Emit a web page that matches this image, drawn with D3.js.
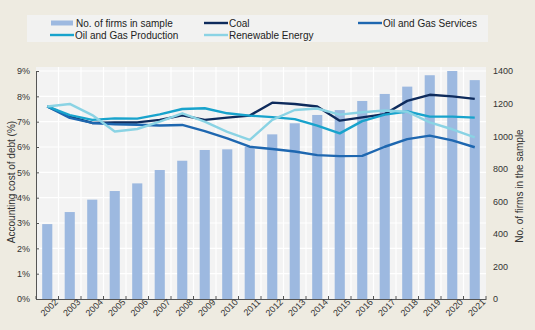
<!DOCTYPE html>
<html>
<head>
<meta charset="utf-8">
<script src="https://cdn.jsdelivr.net/npm/d3@7"></script>
<style>
  html, body { margin: 0; padding: 0; background: #EEEBE1; }
  svg { display: block; font-family: "Liberation Sans Narrow", "Arial Narrow", "Liberation Sans", Arial, sans-serif; }
</style>
</head>
<body>
<svg id="chart" width="535" height="330"></svg>
<script>
// Years on the x axis
const years = ["2002","2003","2004","2005","2006","2007","2008","2009","2010","2011",
               "2012","2013","2014","2015","2016","2017","2018","2019","2020","2021"];
// Number of firms in the sample (right axis, bars)
const firms = [460, 534, 610, 663, 710, 792, 849, 915, 919, 935,
               1011, 1079, 1130, 1160, 1216, 1259, 1304, 1374, 1400, 1344];
// Accounting cost of debt by sector, % (left axis, lines)
const coal = [7.6, 7.2, 6.95, 6.97, 6.97, 7.07, 7.25, 7.07, 7.16, 7.24,
              7.75, 7.7, 7.6, 7.04, 7.17, 7.3, 7.82, 8.06, 8.0, 7.9];
const oilGasServices = [7.6, 7.15, 6.95, 6.9, 6.88, 6.85, 6.87, 6.63, 6.34, 6.01,
                        5.92, 5.82, 5.68, 5.64, 5.65, 6.01, 6.31, 6.45, 6.26, 5.99];
const oilGasProduction = [7.6, 7.26, 7.07, 7.13, 7.12, 7.29, 7.5, 7.53, 7.33, 7.24,
                          7.18, 7.1, 6.84, 6.54, 7.02, 7.28, 7.4, 7.2, 7.2, 7.16];
const renewable = [7.6, 7.7, 7.26, 6.61, 6.71, 7.0, 7.33, 7.0, 6.6, 6.28,
                   7.07, 7.46, 7.52, 7.28, 7.37, 7.44, 7.39, 6.97, 6.7, 6.38];
// Axis tick values
const leftTicks = [0, 1, 2, 3, 4, 5, 6, 7, 8, 9];
const rightTicks = [0, 200, 400, 600, 800, 1000, 1200, 1400];

const series = [
  { name: "Coal", values: coal, color: "#0E2B5C" },
  { name: "Oil and Gas Services", values: oilGasServices, color: "#1E67B0" },
  { name: "Oil and Gas Production", values: oilGasProduction, color: "#18A3CC" },
  { name: "Renewable Energy", values: renewable, color: "#8AD3E4" }
];
const barColor = "#9DB9E0";

const svg = d3.select("#chart");
const m = { left: 36, right: 486, top: 71, bottom: 299 };

const x = d3.scaleBand().domain(years).range([m.left, m.right]).paddingInner(0.55).paddingOuter(0.275);
const xb = d3.scaleBand().domain(years).range([m.left, m.right]);
const yL = d3.scaleLinear().domain([0, 9]).range([m.bottom, m.top]);
const yR = d3.scaleLinear().domain([0, 1400]).range([m.bottom, m.top]);

// Plot background
svg.append("rect").attr("x", m.left).attr("y", 67).attr("width", m.right - m.left)
  .attr("height", m.bottom - 67).attr("fill", "#F3F3F3");

// Gridlines
svg.append("g").selectAll("line").data(leftTicks.slice(1)).join("line")
  .attr("x1", m.left).attr("x2", m.right)
  .attr("y1", d => yL(d)).attr("y2", d => yL(d))
  .attr("stroke", "#FFFFFF").attr("stroke-width", 1.2);
svg.append("g").selectAll("line").data(years.slice(1)).join("line")
  .attr("x1", d => xb(d)).attr("x2", d => xb(d))
  .attr("y1", 67).attr("y2", m.bottom)
  .attr("stroke", "#FFFFFF").attr("stroke-width", 1.2);

// Bars: number of firms
svg.append("g").selectAll("rect").data(years).join("rect")
  .attr("x", d => x(d)).attr("width", x.bandwidth())
  .attr("y", (d, i) => yR(firms[i]))
  .attr("height", (d, i) => m.bottom - yR(firms[i]))
  .attr("fill", barColor);

// Lines: cost of debt
const line = d3.line()
  .x((d, i) => xb(years[i]) + xb.bandwidth() / 2)
  .y(d => yL(d));
svg.append("g").selectAll("path").data(series).join("path")
  .attr("d", s => line(s.values))
  .attr("fill", "none").attr("stroke", s => s.color)
  .attr("stroke-width", 2.4).attr("stroke-linejoin", "round");

// Left axis
const gL = svg.append("g").attr("transform", `translate(${m.left},0)`)
  .call(d3.axisLeft(yL).tickValues(leftTicks).tickFormat(d => d + "%").tickSize(-3).tickPadding(6));
gL.select(".domain").attr("stroke", "#555").attr("stroke-width", 1);
gL.selectAll(".tick line").attr("stroke", "#555");
gL.selectAll("text").attr("font-size", 9).attr("fill", "#333").attr("font-family", "inherit");

// Right axis (labels only)
const gR = svg.append("g").attr("transform", `translate(${m.right},0)`)
  .call(d3.axisRight(yR).tickValues(rightTicks).tickFormat(d3.format("d")).tickSize(0).tickPadding(7));
gR.select(".domain").remove();
gR.selectAll("text").attr("font-size", 9).attr("fill", "#333").attr("font-family", "inherit");

// Bottom axis
const gB = svg.append("g").attr("transform", `translate(0,${m.bottom})`)
  .call(d3.axisBottom(xb).tickSize(0).tickPadding(6));
gB.select(".domain").attr("stroke", "#555").attr("stroke-width", 1);
gB.selectAll("text").attr("font-size", 9).attr("fill", "#333").attr("font-family", "inherit")
  .attr("text-anchor", "end").attr("dx", "0.6em").attr("dy", "0.5em")
  .attr("transform", "rotate(-45)");
// Inward ticks at band boundaries
svg.append("g").selectAll("line").data(years.concat(["end"])).join("line")
  .attr("x1", (d, i) => m.left + i * xb.step()).attr("x2", (d, i) => m.left + i * xb.step())
  .attr("y1", m.bottom).attr("y2", m.bottom - 3)
  .attr("stroke", "#555");

// Axis titles
svg.append("text").attr("transform", "translate(15,182) rotate(-90)")
  .attr("text-anchor", "middle").attr("font-size", 10).attr("fill", "#333")
  .text("Accounting cost of debt (%)");
svg.append("text").attr("transform", "translate(523,186) rotate(-90)")
  .attr("text-anchor", "middle").attr("font-size", 10).attr("fill", "#333")
  .text("No. of firms in the sample");

// Legend
const lg = svg.append("g");
lg.append("rect").attr("x", 27).attr("y", 15).attr("width", 461).attr("height", 27).attr("fill", "#F2F2F1");
const legendItems = [
  { name: "No. of firms in sample", color: barColor, bar: true, x: 51, y: 23 },
  { name: "Coal", color: series[0].color, x: 204, y: 23 },
  { name: "Oil and Gas Services", color: series[1].color, x: 358, y: 23 },
  { name: "Oil and Gas Production", color: series[2].color, x: 50, y: 35 },
  { name: "Renewable Energy", color: series[3].color, x: 204, y: 35 }
];
legendItems.forEach(it => {
  if (it.bar) {
    lg.append("rect").attr("x", it.x).attr("y", it.y - 2.5).attr("width", 22).attr("height", 5).attr("fill", it.color);
  } else {
    lg.append("line").attr("x1", it.x).attr("x2", it.x + 24).attr("y1", it.y).attr("y2", it.y)
      .attr("stroke", it.color).attr("stroke-width", 2.4);
  }
  lg.append("text").attr("x", it.x + 25).attr("y", it.y).attr("dy", "0.35em")
    .attr("font-size", 10).attr("fill", "#222").text(it.name);
});
</script>
</body>
</html>
